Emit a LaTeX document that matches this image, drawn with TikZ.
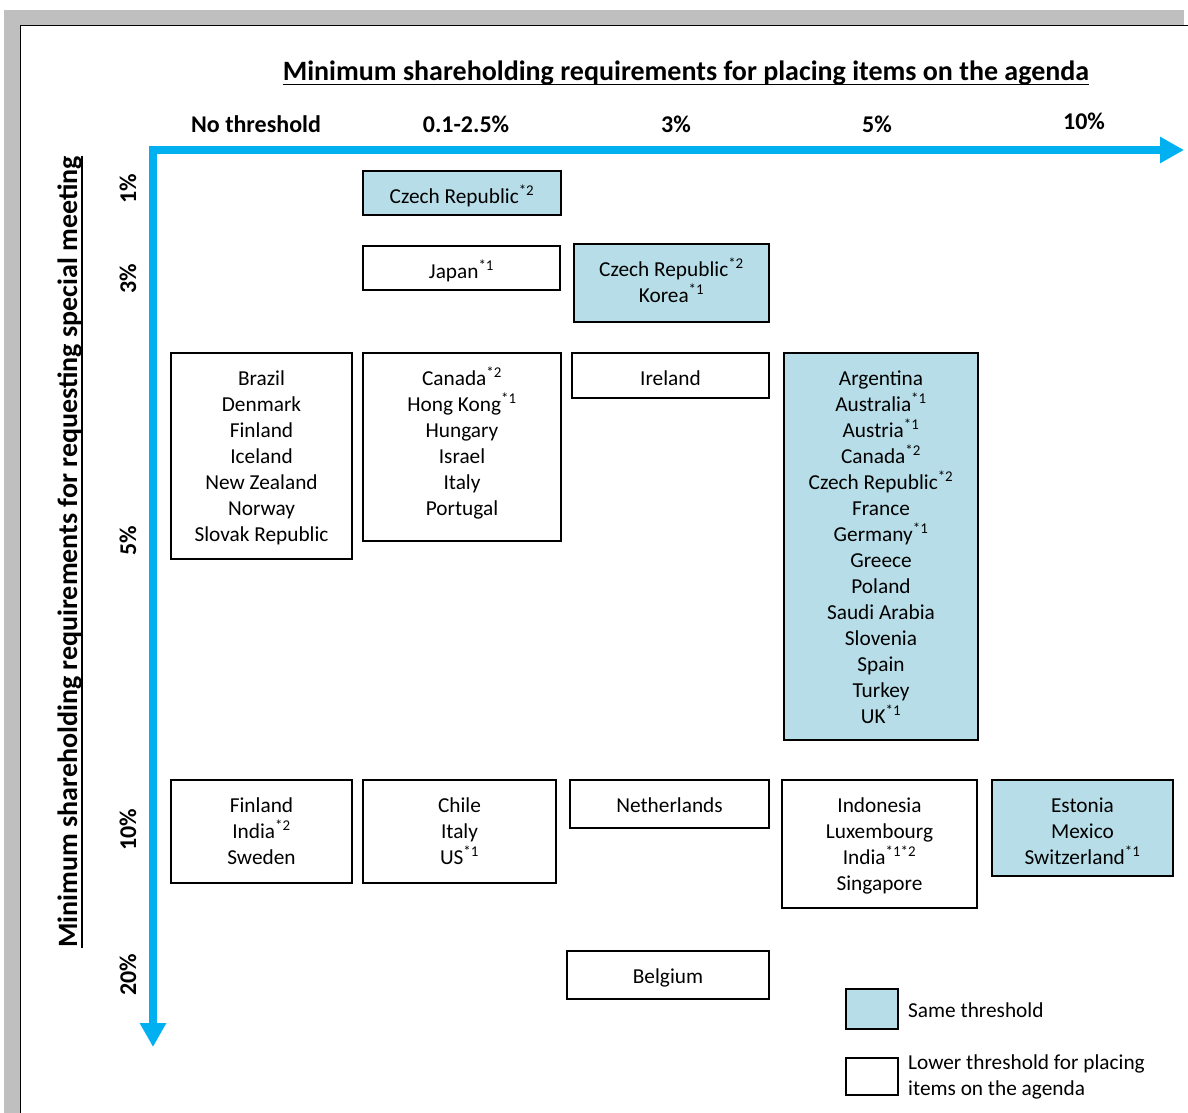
\documentclass[tikz,border=0pt]{standalone}
\usepackage{fontspec}
\setmainfont{Carlito}
\usetikzlibrary{arrows.meta}
\definecolor{axisblue}{HTML}{00B0F0}
\definecolor{samefill}{HTML}{B7DEE8}
\definecolor{framegrey}{HTML}{BFBFBF}
\newcommand{\sps}[1]{\textsuperscript{#1}}
\newcommand{\placebox}[7]{%
  \node[#2, anchor=north west, minimum width={#5-#3}, minimum height={#6-#4}] (#1) at (#3,#4) {};
  \node[cell, anchor=north] (#1t) at (#1.north) {\rule{0pt}{32pt}#7};
}
\begin{document}
\begin{tikzpicture}[x=1pt, y=-1pt,
  samebox/.style={draw=black, line width=1.4pt, fill=samefill, inner sep=0pt, outer sep=0pt},
  lowerbox/.style={draw=black, line width=1.4pt, fill=white, inner sep=0pt, outer sep=0pt},
  cell/.style={font=\fontsize{21.3}{26}\selectfont, align=center, inner sep=0pt},
  legtext/.style={font=\fontsize{21.3}{26}\selectfont, align=left, inner sep=0pt},
  hdr/.style={font=\fontsize{24}{28}\selectfont\bfseries, inner sep=0pt},
  ttl/.style={font=\fontsize{28}{32}\selectfont\bfseries, inner sep=0pt},
  uline/.style={line width=1.6pt, black},
  axis/.style={line width=8pt, axisblue, line join=miter}
]
\useasboundingbox (0,0) rectangle (1188,1113);
% frame
\fill[framegrey] (4,10) rectangle (1184,1113);
\fill[white] (20,25) rectangle (1188,1113);
\draw[line width=1.4pt] (20.5,1113) -- (20.5,25.5) -- (1188,25.5);

% title
\node[ttl, anchor=base] (title) at (686,81) {Minimum shareholding requirements for placing items on the agenda};
\draw[uline] ([yshift=-3.5pt]title.base west) -- ([yshift=-3.5pt]title.base east);

% vertical title
\node[ttl, rotate=90, anchor=base] (ytitle) at (77,552) {Minimum shareholding requirements for requesting special meeting};
\coordinate (ulx) at (82,0);
\draw[uline] (ytitle.base west -| ulx) -- (ytitle.base east -| ulx);

% column headers
\node[hdr, anchor=base] (h0) at (256,132) {No threshold};
\node[hdr, anchor=base] (h1) at (466,132) {0.1-2.5\%};
\node[hdr, anchor=base] (h2) at (676,132) {3\%};
\node[hdr, anchor=base] (h3) at (877,132) {5\%};
\node[hdr, anchor=base] (h4) at (1084,130) {10\%};

% row headers
\node[hdr, rotate=90] (r1) at (128,189) {1\%};
\node[hdr, rotate=90] (r3) at (128,279) {3\%};
\node[hdr, rotate=90] (r5) at (128,541) {5\%};
\node[hdr, rotate=90] (r10) at (128,830) {10\%};
\node[hdr, rotate=90] (r20) at (128,975) {20\%};

% axes
\coordinate (xend) at (1184,150);
\coordinate (corner) at (153,150);
\coordinate (yend) at (153,1047);
\draw[axis, {Triangle[length=24pt,width=25pt]}-{Triangle[length=24pt,width=25pt]}] (xend) -- (corner) -- (yend);

% boxes
\placebox{b1}{samebox}{363}{171}{561}{215}{Czech Republic\sps{*2}}
\placebox{b2}{lowerbox}{363}{246}{560}{290}{Japan\sps{*1}}
\placebox{b3}{samebox}{574}{244}{769}{322}{Czech Republic\sps{*2}\\Korea\sps{*1}}
\placebox{b4}{lowerbox}{171}{353}{352}{559}{Brazil\\Denmark\\Finland\\Iceland\\New Zealand\\Norway\\Slovak Republic}
\placebox{b5}{lowerbox}{363}{353}{561}{541}{Canada\sps{*2}\\Hong Kong\sps{*1}\\Hungary\\Israel\\Italy\\Portugal}
\placebox{b6}{lowerbox}{572}{353}{769}{398}{Ireland}
\placebox{b7}{samebox}{784}{353}{978}{740}{Argentina\\Australia\sps{*1}\\Austria\sps{*1}\\Canada\sps{*2}\\Czech Republic\sps{*2}\\France\\Germany\sps{*1}\\Greece\\Poland\\Saudi Arabia\\Slovenia\\Spain\\Turkey\\UK\sps{*1}}
\placebox{b8}{lowerbox}{171}{780}{352}{883}{Finland\\India\sps{*2}\\Sweden}
\placebox{b9}{lowerbox}{363}{780}{556}{883}{Chile\\Italy\\US\sps{*1}}
\placebox{b10}{lowerbox}{570}{780}{769}{828}{Netherlands}
\placebox{b11}{lowerbox}{782}{780}{977}{908}{Indonesia\\Luxembourg\\India\sps{*1*2}\\Singapore}
\placebox{b12}{samebox}{992}{780}{1173}{876}{Estonia\\Mexico\\Switzerland\sps{*1}}
\placebox{b13}{lowerbox}{567}{951}{769}{999}{Belgium}

% legend
\node[samebox, anchor=north west, minimum width=52pt, minimum height=40pt] (leg1) at (846,989) {};
\node[lowerbox, anchor=north west, minimum width=52pt, minimum height=37pt] (leg2) at (846,1058) {};
\node[legtext, anchor=base west] (leg1t) at (908,1017) {Same threshold};
\node[legtext, anchor=north west] (leg2t) at (908,1050) {\rule{0pt}{19pt}Lower threshold for placing\\items on the agenda};
\end{tikzpicture}
\end{document}
